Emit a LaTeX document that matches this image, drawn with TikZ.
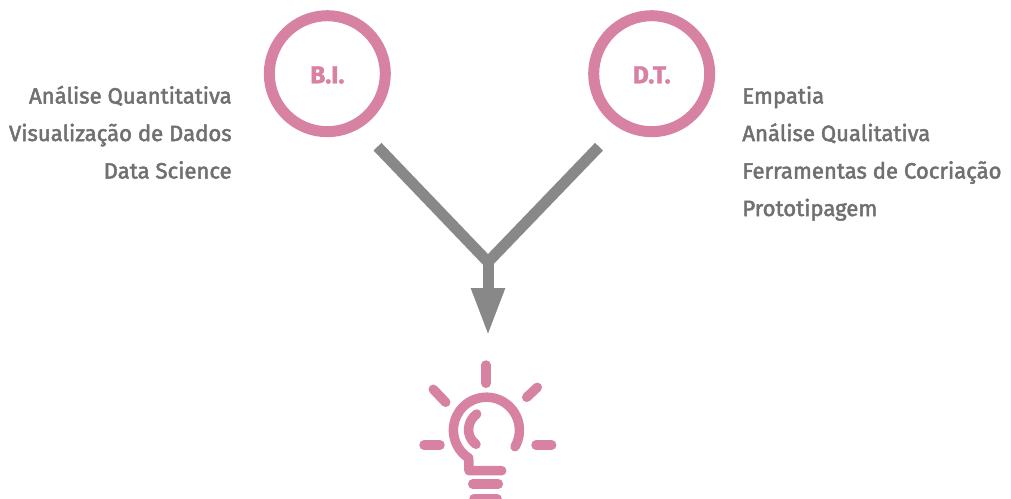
\documentclass[tikz,border=0pt]{standalone}
\usepackage{fontspec}
\setmainfont{Fira Sans}
\newfontfamily\skillfont[FakeBold=2.2]{Fira Sans}
\newfontfamily\ringfont[BoldFeatures={FakeBold=1.5}]{Fira Sans}
\usepackage{xcolor}
\usetikzlibrary{arrows.meta,positioning}
\definecolor{rosa}{HTML}{D882A3}
\definecolor{cinza}{HTML}{888888}
\definecolor{texto}{HTML}{707070}
\tikzset{
    ring/.style={circle, draw=rosa, line width=0.22cm, minimum size=2.32cm, inner sep=0pt},
    ringlabel/.style={text=rosa, font=\ringfont\fontsize{14}{14}\selectfont\bfseries, anchor=base},
    skill/.style={text=texto, font=\skillfont\fontsize{12.6}{12.6}\selectfont, inner sep=0pt},
    bulb/.style={draw=rosa, line width=0.19cm, line cap=round, line join=round},
    leg/.style={draw=cinza, line width=0.22cm}
}
\begin{document}
\begin{tikzpicture}[x=0.02cm, y=-0.02cm]
    \useasboundingbox (0,0) rectangle (1011,498);

    \node[ring] (bi) at (327.3,73.7) {};
    \node[ring] (dt) at (651.7,73.7) {};
    \node[ringlabel] (bilabel) at (327.3,83.3) {B.I.};
    \node[ringlabel] (dtlabel) at (651.7,83.3) {D.T.};

    \node[skill, anchor=base east] (quanti) at (232,103.5) {Análise Quantitativa};
    \node[skill, anchor=base east] (visual) at (232,141) {Visualização de Dados};
    \node[skill, anchor=base east] (science) at (232,178.5) {Data Science};

    \node[skill, anchor=base west] (empatia) at (742,103.5) {Empatia};
    \node[skill, anchor=base west] (quali) at (742,141) {Análise Qualitativa};
    \node[skill, anchor=base west] (cocria) at (742,178.5) {Ferramentas de Cocriação};
    \node[skill, anchor=base west] (proto) at (742,216) {Prototipagem};

    \coordinate (biend) at (377.5,146.7);
    \coordinate (dtend) at (599,146.7);
    \coordinate (meet) at (488,262);
    \coordinate (tip) at (488,336);
    \draw[leg, miter limit=10] (biend) -- (meet) -- (dtend);
    \draw[leg, -{Triangle[width=0.62cm, length=0.96cm]}] (meet) -- (tip);

    \draw[bulb] (515,446.7) arc (30:-237.5:33) -- (469,470.7) -- (501.7,470.7);
    \draw[bulb] (476.7,414) .. controls (467,421) and (465,436) .. (476,444.3);
    \draw[bulb] (472.7,484) -- (498.3,484);
    \draw[bulb] (474,498.5) -- (497,498.5);
    \draw[bulb] (486,365) -- (486,383.3);
    \draw[bulb] (433.3,389.3) -- (445.7,402.3);
    \draw[bulb] (537.3,387.3) -- (526.7,397.3);
    \draw[bulb] (424,445) -- (440,445);
    \draw[bulb] (536,445) -- (551.7,445);
\end{tikzpicture}
\end{document}
